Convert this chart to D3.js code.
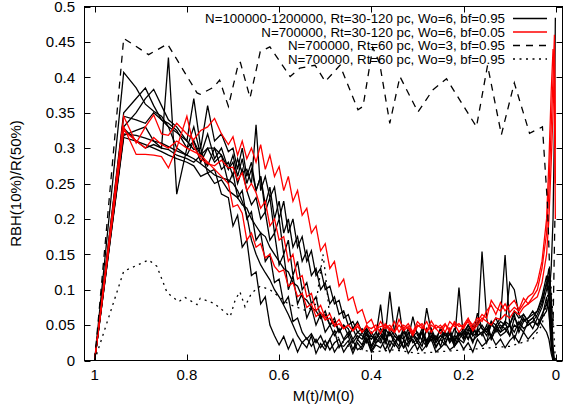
<!DOCTYPE html>
<html>
<head>
<meta charset="utf-8">
<script src="https://cdn.jsdelivr.net/npm/d3@7"></script>
<style>
  body { margin: 0; background: #fff; }
  svg text { font-family: "Liberation Sans", Arial, sans-serif; font-size: 15px; fill: #000; }
  svg .key text { font-size: 13.3px; }
</style>
</head>
<body>
<div id="chart"></div>
<script>
// shared mass grid M(t)/M(0) for the solid runs
const gridX = [1, 0.937, 0.91, 0.89, 0.872, 0.855, 0.84, 0.822, 0.80, 0.785, 0.77, 0.755, 0.74, 0.725, 0.71,
  0.70, 0.69, 0.68, 0.67, 0.66, 0.65, 0.64, 0.63, 0.62, 0.61,
  0.60, 0.59, 0.58, 0.57, 0.56, 0.55, 0.54, 0.53, 0.52, 0.51, 0.50, 0.49, 0.48, 0.47, 0.46, 0.45, 0.44, 0.43, 0.42, 0.41, 0.40,
  0.39, 0.38, 0.37, 0.36, 0.35, 0.34, 0.33, 0.32, 0.31, 0.30, 0.29, 0.28, 0.27, 0.26, 0.25, 0.24, 0.23, 0.22, 0.21,
  0.20, 0.19, 0.18, 0.17, 0.16, 0.15, 0.14, 0.13, 0.12, 0.11, 0.10, 0.09, 0.08, 0.07, 0.06, 0.05, 0.04, 0.03, 0.02,
  0.015, 0.01, 0.006, 0.003, 0.001]

// N=100000-1200000, Rt=30-120 pc, Wo=6, bf=0.95 (black)
const blackRuns = [
  [0, .407, .385, .362, .352, .345, .33, .322, .31, .298, .3, .265, .27, .235, .23, .19, .205, .16, .17, .12, .125, .08, .09, .05, .035,
    .022, .034, .016, .03, .012, .026, .018, .035, .01, .024, .015, .03, .012, .022, .02, .028, .01, .025, .016, .03, .012,
    .022, .018, .03, .012, .025, .016, .028, .01, .02, .026, .014, .022, .03, .012, .018, .025, .015, .02, .028,
    .016, .025, .012, .03, .02, .026, .035, .022, .03, .018, .028, .035, .025, .04, .03, .038, .045, .06, .09,
    .07, .02, 0, 0, 0],
  [0, .35, .37, .385, .36, .34, .335, .325, .3, .31, .29, .3, .28, .29, .25, .265, .23, .24, .2, .21, .17, .18, .14, .15, .11,
    .115, .08, .09, .055, .06, .04, .03, .038, .025, .035, .02, .03, .042, .018, .028, .035, .015, .03, .022, .04, .018,
    .03, .025, .04, .02, .035, .028, .018, .04, .025, .03, .02, .045, .028, .035, .02, .04, .03, .025, .103,
    .03, .04, .025, .045, .035, .05, .03, .045, .04, .055, .035, .05, .045, .06, .05, .055, .065, .08, .11,
    .13, .09, .02, 0, 0],
  [0, .32, .318, .314, .31, .307, .302, .296, .29, .285, .278, .27, .262, .258, .255, .25, .24, .225, .205, .17, .15, .135, .124, .114, .1,
    .09, .078, .065, .05, .035, .025, .032, .02, .03, .018, .028, .015, .025, .03, .012, .022, .028, .015, .02, .032, .014,
    .025, .03, .015, .028, .02, .035, .018, .025, .03, .015, .028, .02, .035, .018, .03, .022, .04, .02, .03,
    .025, .04, .028, .035, .154, .06, .03, .045, .035, .04, .05, .03, .048, .04, .055, .045, .06, .075, .1,
    .12, .06, 0, 0, 0],
  [0, .318, .325, .33, .31, .3, .428, .235, .3, .33, .29, .32, .285, .3, .27, .28, .25, .27, .24, .22, .23, .2, .21, .17, .18,
    .135, .15, .1, .12, .08, .095, .06, .075, .05, .065, .04, .05, .035, .045, .03, .04, .025, .035, .03, .045, .02,
    .035, .079, .025, .04, .03, .02, .045, .03, .035, .025, .04, .02, .035, .028, .045, .025, .038, .02, .035,
    .045, .03, .05, .035, .04, .025, .055, .04, .05, .045, .035, .06, .05, .065, .055, .06, .07, .09, .12,
    .1, .05, .01, 0, 0],
  [0, .33, .35, .37, .383, .36, .34, .33, .31, .37, .3, .36, .31, .32, .295, .3, .27, .3, .26, .28, .24, .26, .21, .23, .18,
    .2, .15, .17, .12, .14, .1, .11, .08, .09, .06, .07, .05, .06, .04, .05, .045, .03, .04, .035, .025, .04,
    .03, .045, .035, .097, .04, .03, .045, .025, .038, .03, .045, .028, .04, .025, .035, .03, .045, .025, .04,
    .035, .05, .04, .055, .045, .035, .05, .06, .045, .055, .05, .065, .04, .055, .06, .065, .07, .085, .11,
    .09, .04, 0, 0, 0],
  [0, .328, .31, .3, .305, .3, .298, .29, .285, .28, .29, .275, .3, .27, .28, .26, .285, .265, .27, .25, .333, .24, .26, .23, .245,
    .2, .225, .18, .2, .16, .175, .14, .155, .12, .13, .1, .105, .08, .085, .06, .065, .045, .055, .04, .045, .035,
    .03, .04, .025, .045, .035, .028, .04, .03, .062, .035, .04, .025, .045, .03, .035, .04, .028, .045, .035,
    .04, .05, .035, .067, .045, .04, .055, .05, .06, .149, .05, .07, .06, .065, .055, .06, .05, .065, .08,
    .07, .03, 0, 0, 0],
  [0, .345, .34, .335, .35, .34, .33, .3, .29, .31, .28, .3, .3, .29, .27, .29, .26, .285, .25, .27, .24, .26, .22, .245, .2,
    .225, .18, .2, .16, .175, .14, .155, .12, .13, .1, .11, .08, .09, .065, .07, .05, .055, .04, .045, .035, .03,
    .04, .03, .045, .035, .04, .076, .03, .045, .035, .04, .028, .074, .04, .03, .045, .035, .04, .028, .04,
    .03, .045, .035, .04, .05, .04, .05, .045, .055, .05, .11, .1, .065, .055, .06, .07, .06, .05, .04,
    .03, .01, 0, 0, 0],
  [0, .315, .31, .305, .3, .295, .29, .285, .28, .275, .26, .265, .25, .255, .24, .235, .23, .22, .215, .2, .19, .18, .175, .16, .15,
    .14, .13, .125, .11, .105, .09, .085, .075, .07, .06, .065, .05, .055, .04, .05, .035, .045, .03, .04, .028, .035,
    .025, .035, .03, .04, .025, .035, .03, .02, .035, .03, .04, .025, .035, .02, .03, .04, .025, .035, .03,
    .04, .03, .045, .035, .04, .045, .035, .05, .04, .045, .05, .04, .055, .045, .05, .055, .05, .06, .07,
    .09, .13, .2, .33, .484]
]

// N=700000, Rt=30-120 pc, Wo=6, bf=0.05 (red)
const redRuns = [
  [0, .345, .307, .33, .347, .32, .318, .335, .32, .312, .325, .33, .342, .32, .305, .316, .29, .31, .285, .3, .28, .305, .27, .29, .26,
    .274, .24, .26, .225, .24, .205, .215, .18, .19, .155, .165, .13, .14, .105, .115, .085, .09, .067, .072, .052, .058,
    .042, .055, .045, .05, .04, .058, .045, .052, .04, .055, .048, .042, .056, .045, .05, .04, .055, .048, .052,
    .045, .058, .05, .06, .055, .07, .078, .065, .082, .07, .078, .085, .072, .088, .08, .09, .1, .13, .18,
    .24, .33, .4, .46, .3],
  [0, .33, .291, .291, .29, .288, .272, .3, .345, .302, .285, .278, .275, .283, .272, .273, .255, .265, .24, .25, .237, .215, .225, .19, .2,
    .17, .175, .14, .15, .115, .12, .09, .095, .07, .078, .06, .066, .05, .058, .045, .05, .042, .052, .04, .048, .045,
    .05, .038, .052, .045, .04, .05, .042, .048, .038, .05, .045, .055, .04, .05, .045, .052, .04, .055, .048,
    .05, .06, .045, .055, .065, .06, .085, .075, .07, .08, .068, .075, .07, .08, .09, .095, .11, .14, .2,
    .28, .38, .44, .4, .2],
  [0, .325, .31, .3, .315, .305, .3, .31, .3, .295, .29, .28, .27, .26, .25, .217, .22, .208, .17, .18, .16, .165, .145, .15, .133,
    .125, .128, .105, .11, .09, .095, .075, .08, .062, .068, .057, .06, .048, .052, .045, .05, .042, .048, .04, .05, .038,
    .045, .048, .05, .042, .055, .04, .05, .045, .035, .048, .052, .04, .05, .045, .038, .05, .044, .052, .04,
    .048, .055, .042, .05, .06, .055, .05, .06, .058, .065, .06, .07, .065, .075, .08, .085, .09, .11, .15,
    .2, .28, .35, .42, .25]
]

// N=700000, Rt=60 pc, Wo=3, bf=0.95 (dashed)
const wo3X = [1, 0.937, 0.883, 0.842, 0.778, 0.771, 0.742, 0.729, 0.710, 0.688, 0.684, 0.663, 0.641, 0.620, 0.576, 0.555,
  0.522, 0.500, 0.468, 0.429, 0.418, 0.397, 0.382, 0.360, 0.338, 0.299, 0.267, 0.237, 0.172, 0.148, 0.118, 0.090,
  0.057, 0.029, 0.018, 0.012, 0.006, 0.002]
const wo3Y = [0, 0.455, 0.432, 0.447, 0.378, 0.376, 0.386, 0.396, 0.359, 0.420, 0.421, 0.371, 0.436, 0.443, 0.401, 0.413,
  0.417, 0.394, 0.417, 0.354, 0.359, 0.442, 0.420, 0.335, 0.401, 0.351, 0.382, 0.398, 0.330, 0.417, 0.319, 0.392,
  0.321, 0.330, 0.220, 0.100, 0.050, 0.200]

// N=700000, Rt=60 pc, Wo=9, bf=0.95 (dotted)
const wo9X = [1, 0.937, 0.883, 0.865, 0.843, 0.818, 0.804, 0.778, 0.771, 0.742, 0.728, 0.706, 0.695, 0.685, 0.674, 0.660,
  0.641, 0.620, 0.600, 0.580, 0.560, 0.540, 0.520, 0.505, 0.500, 0.490, 0.470, 0.450, 0.420, 0.400, 0.350, 0.300,
  0.200, 0.100, 0.050, 0.030, 0.020, 0.012, 0.005, 0.001]
const wo9Y = [0, 0.126, 0.142, 0.133, 0.096, 0.083, 0.089, 0.079, 0.088, 0.081, 0.074, 0.062, 0.086, 0.097, 0.076, 0.095,
  0.105, 0.100, 0.090, 0.080, 0.075, 0.070, 0.080, 0.150, 0.125, 0.060, 0.030, 0.020, 0.015, 0.012, 0.015, 0.010,
  0.015, 0.020, 0.030, 0.050, 0.080, 0.120, 0.050, 0]

const legendLabels = [
  'N=100000-1200000, Rt=30-120 pc, Wo=6, bf=0.95',
  'N=700000, Rt=30-120 pc, Wo=6, bf=0.05',
  'N=700000, Rt=60 pc, Wo=3, bf=0.95',
  'N=700000, Rt=60 pc, Wo=9, bf=0.95'
]
const xTicks = [1, 0.8, 0.6, 0.4, 0.2, 0]
const yTicks = [0, 0.05, 0.1, 0.15, 0.2, 0.25, 0.3, 0.35, 0.4, 0.45, 0.5]

const W = 567, H = 412
const plot = { left: 84.5, right: 562.5, top: 6.5, bottom: 360.5 }

const svg = d3.select('#chart').append('svg').attr('width', W).attr('height', H)

const x = d3.scaleLinear().domain([1.022, -0.0145]).range([plot.left, plot.right])
const y = d3.scaleLinear().domain([0, 0.5]).range([plot.bottom, plot.top])

svg.append('clipPath').attr('id', 'clip')
  .append('rect')
  .attr('x', plot.left).attr('y', plot.top)
  .attr('width', plot.right - plot.left).attr('height', plot.bottom - plot.top)

const styles = [
  { color: '#000', dash: null },
  { color: '#ff0000', dash: null },
  { color: '#000', dash: '7,6' },
  { color: '#000', dash: '2,4.5' }
]

const line = d3.line().x(d => x(d[0])).y(d => y(d[1]))
const data = svg.append('g').attr('clip-path', 'url(#clip)')

function drawRun (xs, ys, st) {
  data.append('path')
    .datum(xs.map((v, i) => [v, ys[i]]))
    .attr('d', line)
    .attr('fill', 'none')
    .attr('stroke', st.color)
    .attr('stroke-width', 1.3)
    .attr('stroke-linejoin', 'miter')
    .attr('stroke-dasharray', st.dash)
}

blackRuns.forEach(r => drawRun(gridX, r, styles[0]))
redRuns.forEach(r => drawRun(gridX, r, styles[1]))
drawRun(wo3X, wo3Y, styles[2])
drawRun(wo9X, wo9Y, styles[3])

// frame and inward ticks (mirrored on top / right)
const axes = svg.append('g').attr('stroke', '#000').attr('stroke-width', 1)
const tl = 6
yTicks.forEach(t => {
  let yy = Math.round(y(t)) + 0.5
  axes.append('line').attr('x1', plot.left).attr('x2', plot.left + tl).attr('y1', yy).attr('y2', yy)
  axes.append('line').attr('x1', plot.right).attr('x2', plot.right - tl).attr('y1', yy).attr('y2', yy)
})
xTicks.forEach(t => {
  let xx = Math.round(x(t)) + 0.5
  axes.append('line').attr('x1', xx).attr('x2', xx).attr('y1', plot.bottom).attr('y2', plot.bottom - tl)
  axes.append('line').attr('x1', xx).attr('x2', xx).attr('y1', plot.top).attr('y2', plot.top + tl)
})
axes.append('rect')
  .attr('x', plot.left).attr('y', plot.top)
  .attr('width', plot.right - plot.left).attr('height', plot.bottom - plot.top)
  .attr('fill', 'none')

svg.append('g').selectAll('text').data(yTicks).join('text')
  .attr('x', 75).attr('y', d => y(d) + 5.3)
  .attr('text-anchor', 'end')
  .text(d => String(d))

svg.append('g').selectAll('text').data(xTicks).join('text')
  .attr('x', d => x(d)).attr('y', 380)
  .attr('text-anchor', 'middle')
  .text(d => String(d))

svg.append('text')
  .attr('x', (plot.left + plot.right) / 2).attr('y', 401)
  .attr('text-anchor', 'middle')
  .text('M(t)/M(0)')

svg.append('text')
  .attr('transform', `translate(21,${(plot.top + plot.bottom) / 2}) rotate(-90)`)
  .attr('text-anchor', 'middle')
  .text('RBH(10%)/R(50%)')

// key, top right
const key = svg.append('g').attr('class', 'key')
legendLabels.forEach((lab, i) => {
  let ky = 18.5 + i * 13.5
  key.append('text').attr('x', 505).attr('y', ky + 4.7).attr('text-anchor', 'end').text(lab)
  key.append('line')
    .attr('x1', 513).attr('x2', 547).attr('y1', ky).attr('y2', ky)
    .attr('stroke', styles[i].color).attr('stroke-width', 1.3)
    .attr('stroke-dasharray', styles[i].dash)
})
</script>
</body>
</html>
